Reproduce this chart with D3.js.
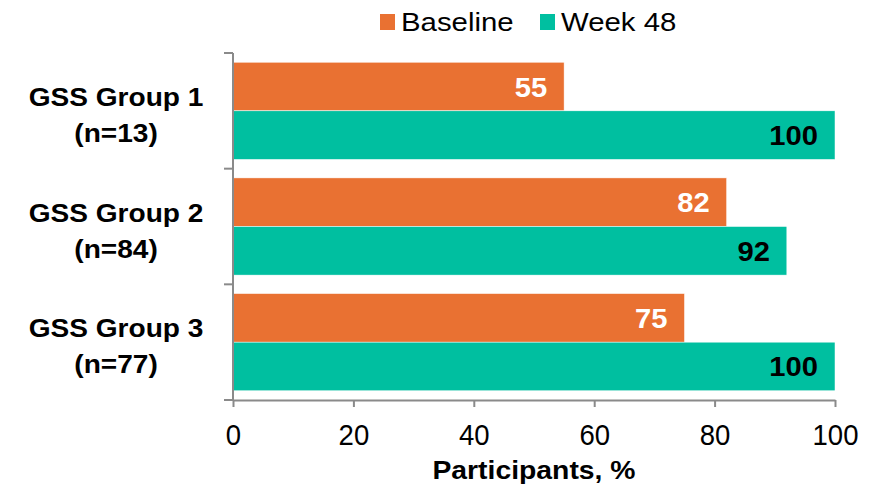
<!DOCTYPE html>
<html>
<head>
<meta charset="utf-8">
<script src="https://cdn.jsdelivr.net/npm/d3@7"></script>
<style>
  html, body { margin: 0; padding: 0; background: #fff; }
  svg { display: block; font-family: "Liberation Sans", Arial, sans-serif; }
</style>
</head>
<body>
<svg id="chart" width="884" height="485"></svg>
<script>
// Chart data
const groups = ["GSS Group 1", "GSS Group 2", "GSS Group 3"];
const groupN = ["(n=13)", "(n=84)", "(n=77)"];
const seriesNames = ["Baseline", "Week 48"];
const baselineValues = [55, 82, 75];
const week48Values = [100, 92, 100];
const xTicks = [0, 20, 40, 60, 80, 100];
const xTitle = "Participants, %";

const colors = { "Baseline": "#E97132", "Week 48": "#00BFA0" };
const labelColors = { "Baseline": "#ffffff", "Week 48": "#000000" };
const axisColor = "#8a8a8a";

const rows = groups.map((g, i) => ({
  group: g,
  n: groupN[i],
  values: [
    { series: "Baseline", value: baselineValues[i] },
    { series: "Week 48", value: week48Values[i] }
  ]
}));

const svg = d3.select("#chart");
const plotLeft = 233, plotRight = 835, plotTop = 53, plotBottom = 400;

const x = d3.scaleLinear().domain([0, 100]).range([plotLeft, plotRight]);
const y0 = d3.scaleBand().domain(groups).range([plotTop, plotBottom]).padding(0);
const y1 = d3.scaleBand().domain(seriesNames).range([0, y0.bandwidth()])
  .paddingInner(0).paddingOuter(0.19);

// Bars
const g = svg.selectAll("g.group").data(rows).join("g")
  .attr("class", "group")
  .attr("transform", d => `translate(0,${y0(d.group)})`);

g.selectAll("rect").data(d => d.values).join("rect")
  .attr("x", x(0))
  .attr("y", d => y1(d.series))
  .attr("width", d => x(d.value) - x(0))
  .attr("height", y1.bandwidth())
  .attr("fill", d => colors[d.series])
  .attr("stroke", "#ffffff")
  .attr("stroke-width", 0.5);

// Value labels inside bar ends
g.selectAll("text.val").data(d => d.values).join("text")
  .attr("class", "val")
  .attr("transform", d => `translate(${x(d.value) - 17},${y1(d.series) + y1.bandwidth() / 2 + 10}) scale(1.08,1)`)
  .attr("text-anchor", "end")
  .attr("font-size", 27)
  .attr("font-weight", "bold")
  .attr("fill", d => labelColors[d.series])
  .text(d => d.value);

// Category labels (two lines)
const cat = svg.selectAll("g.cat").data(rows).join("g")
  .attr("class", "cat")
  .attr("transform", d => `translate(116,${y0(d.group) + y0.bandwidth() / 2})`);
cat.append("text")
  .attr("transform", "translate(0,-5) scale(1.08,1)")
  .attr("text-anchor", "middle")
  .attr("font-size", 26).attr("font-weight", "bold").attr("fill", "#000")
  .text(d => d.group);
cat.append("text")
  .attr("transform", "translate(0,31) scale(1.08,1)")
  .attr("text-anchor", "middle")
  .attr("font-size", 26).attr("font-weight", "bold").attr("fill", "#000")
  .text(d => d.n);

// Left axis: line with ticks at group boundaries
const boundaries = groups.map(gr => y0(gr)).concat([plotBottom]);
const yAxis = svg.append("g");
yAxis.append("line")
  .attr("x1", plotLeft).attr("x2", plotLeft).attr("y1", plotTop).attr("y2", plotBottom)
  .attr("stroke", axisColor).attr("stroke-width", 2);
yAxis.selectAll("line.tick").data(boundaries).join("line")
  .attr("class", "tick")
  .attr("x1", plotLeft - 9).attr("x2", plotLeft)
  .attr("y1", d => d).attr("y2", d => d)
  .attr("stroke", axisColor).attr("stroke-width", 2);

// Bottom axis
const xAxis = svg.append("g")
  .attr("transform", `translate(0,${plotBottom})`)
  .call(d3.axisBottom(x).tickValues(xTicks).tickSize(7).tickSizeOuter(0).tickPadding(10));
xAxis.select(".domain").attr("stroke", axisColor).attr("stroke-width", 2);
xAxis.selectAll(".tick line").attr("stroke", axisColor).attr("stroke-width", 2);
xAxis.selectAll(".tick text")
  .attr("font-size", 29)
  .attr("font-family", "'Liberation Sans', Arial, sans-serif")
  .attr("fill", "#000")
  .attr("dy", null)
  .attr("y", 45)
  .attr("transform", "scale(0.95,1)");

// Axis title
svg.append("text")
  .attr("transform", `translate(${(plotLeft + plotRight) / 2},479) scale(1.09,1)`)
  .attr("text-anchor", "middle")
  .attr("font-size", 26).attr("font-weight", "bold").attr("fill", "#000")
  .text(xTitle);

// Legend
const legendX = [380, 540];
const legend = svg.selectAll("g.legend").data(seriesNames).join("g")
  .attr("class", "legend")
  .attr("transform", (d, i) => `translate(${legendX[i]},0)`);
legend.append("rect")
  .attr("x", 0).attr("y", 14).attr("width", 15).attr("height", 16)
  .attr("fill", d => colors[d]);
legend.append("text")
  .attr("transform", "translate(21,31) scale(1.13,1)")
  .attr("font-size", 26).attr("fill", "#000")
  .text(d => d);
</script>
</body>
</html>
